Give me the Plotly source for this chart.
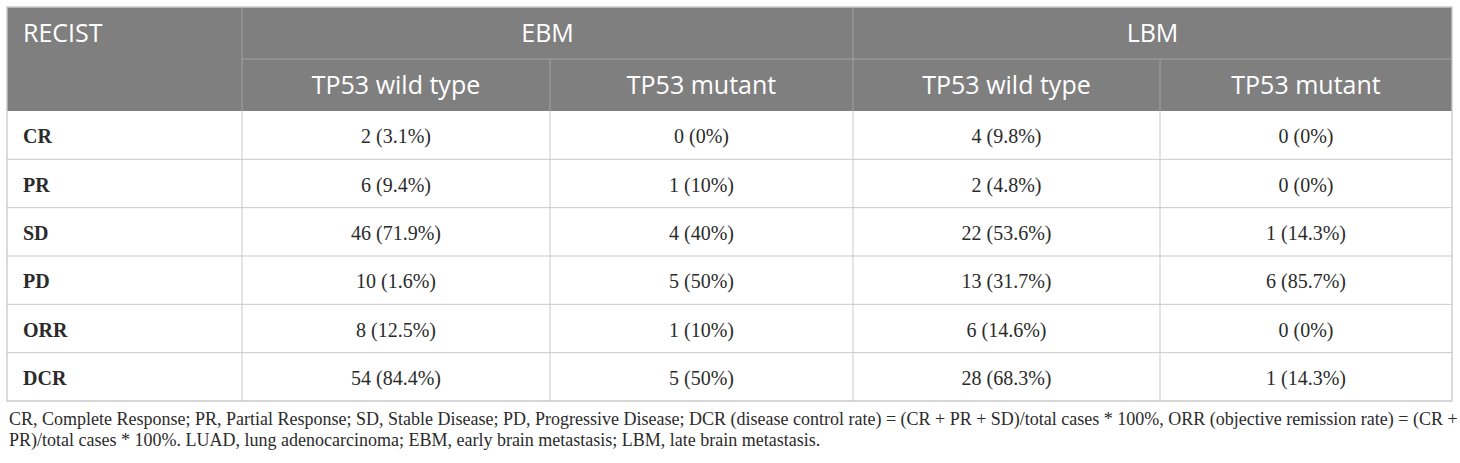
import plotly.graph_objects as go

W, H = 1460, 463

# ---- data ----
group_labels = ["RECIST", "EBM", "LBM"]
sub_labels = ["TP53 wild type", "TP53 mutant", "TP53 wild type", "TP53 mutant"]
recist = ["CR", "PR", "SD", "PD", "ORR", "DCR"]
ebm_wild = ["2 (3.1%)", "6 (9.4%)", "46 (71.9%)", "10 (1.6%)", "8 (12.5%)", "54 (84.4%)"]
ebm_mut = ["0 (0%)", "1 (10%)", "4 (40%)", "5 (50%)", "1 (10%)", "5 (50%)"]
lbm_wild = ["4 (9.8%)", "2 (4.8%)", "22 (53.6%)", "13 (31.7%)", "6 (14.6%)", "28 (68.3%)"]
lbm_mut = ["0 (0%)", "0 (0%)", "1 (14.3%)", "6 (85.7%)", "0 (0%)", "1 (14.3%)"]
footnote_lines = [
    "CR, Complete Response; PR, Partial Response; SD, Stable Disease; PD, Progressive Disease; "
    "DCR (disease control rate) = (CR + PR + SD)/total cases * 100%, ORR (objective remission rate) = (CR +",
    "PR)/total cases * 100%. LUAD, lung adenocarcinoma; EBM, early brain metastasis; LBM, late brain metastasis.",
]

# ---- style / geometry (pixels) ----
HDR_FILL = "#7f7f7f"
HDR_LINE = "#a3a3a3"
LINE = "#c9c9c9"
TXT = "#2b2b2b"
SANS = "Open Sans"
SERIF = "Liberation Serif"

x0 = 7
col_w = [235, 308, 303, 307, 292]
y_top, y_mid, y_hdr, y_bot = 7, 59, 111, 401
pad_left = 16
text_dy = 3          # optical offset so glyphs sit centred in the cells
foot_y0, foot_dy = 419, 21

edges = [x0]
for w in col_w:
    edges.append(edges[-1] + w)
x1 = edges[-1]
centers = [(edges[i] + edges[i + 1]) / 2 for i in range(len(col_w))]
n_rows = len(recist)
row_h = (y_bot - y_hdr) / n_rows
row_edges = [y_hdr + i * row_h for i in range(n_rows + 1)]
row_centers = [y_hdr + (i + 0.5) * row_h + text_dy for i in range(n_rows)]
hdr1_y = (y_top + y_mid) / 2 + text_dy
hdr2_y = (y_mid + y_hdr) / 2 + text_dy

fig = go.Figure()

# ---- background / grid ----
shapes = []
shapes.append(dict(type="rect", x0=x0, x1=x1, y0=y_top, y1=y_hdr, fillcolor=HDR_FILL,
                   line=dict(width=0)))
# header internal lines
shapes.append(dict(type="line", x0=edges[1], x1=x1, y0=y_mid, y1=y_mid, line=dict(color=HDR_LINE, width=1)))
for e in (edges[1], edges[3]):
    shapes.append(dict(type="line", x0=e, x1=e, y0=y_top, y1=y_hdr, line=dict(color=HDR_LINE, width=1)))
for e in (edges[2], edges[4]):
    shapes.append(dict(type="line", x0=e, x1=e, y0=y_mid, y1=y_hdr, line=dict(color=HDR_LINE, width=1)))
# body lines
for e in edges[1:-1]:
    shapes.append(dict(type="line", x0=e, x1=e, y0=y_hdr, y1=y_bot, line=dict(color=LINE, width=1)))
for r in row_edges[1:-1]:
    shapes.append(dict(type="line", x0=x0, x1=x1, y0=r, y1=r, line=dict(color=LINE, width=1)))
# outer frame
shapes.append(dict(type="rect", x0=x0, x1=x1, y0=y_top, y1=y_bot, line=dict(color=LINE, width=1.3)))
for s in shapes:
    s.setdefault("xref", "x")
    s.setdefault("yref", "y")
    s.setdefault("layer", "below")

# ---- header text ----
hdr_font = dict(family=SANS, size=25, color="white")
fig.add_trace(go.Scatter(
    x=[x0 + pad_left], y=[hdr1_y], text=[group_labels[0]],
    mode="text", textposition="middle right", textfont=hdr_font, hoverinfo="skip"))
fig.add_trace(go.Scatter(
    x=[(edges[1] + edges[3]) / 2, (edges[3] + edges[5]) / 2], y=[hdr1_y] * 2,
    text=group_labels[1:], mode="text", textposition="middle center", textfont=hdr_font, hoverinfo="skip"))
fig.add_trace(go.Scatter(
    x=centers[1:], y=[hdr2_y] * 4, text=sub_labels,
    mode="text", textposition="middle center", textfont=hdr_font, hoverinfo="skip"))

# ---- body text ----
fig.add_trace(go.Scatter(
    x=[x0 + pad_left] * n_rows, y=row_centers, text=["<b>%s</b>" % r for r in recist],
    mode="text", textposition="middle right",
    textfont=dict(family=SERIF, size=20, color=TXT), hoverinfo="skip"))
for ci, col in enumerate([ebm_wild, ebm_mut, lbm_wild, lbm_mut], start=1):
    fig.add_trace(go.Scatter(
        x=[centers[ci]] * n_rows, y=row_centers, text=col,
        mode="text", textposition="middle center",
        textfont=dict(family=SERIF, size=20, color=TXT), hoverinfo="skip"))

# ---- footnote ----
for i, line in enumerate(footnote_lines):
    fig.add_annotation(
        x=x0, y=foot_y0 + i * foot_dy, xref="x", yref="y",
        xanchor="left", yanchor="middle", align="left", showarrow=False,
        text=line, font=dict(family=SERIF, size=18, color=TXT),
    )

fig.update_layout(
    width=W, height=H,
    margin=dict(l=0, r=0, t=0, b=0),
    paper_bgcolor="white", plot_bgcolor="white",
    showlegend=False,
    shapes=shapes,
    xaxis=dict(range=[0, W], visible=False, fixedrange=True),
    yaxis=dict(range=[H, 0], visible=False, fixedrange=True),
)

fig.write_html("out.html", config={"displayModeBar": False},
               post_script="document.body.style.margin='0px';")
